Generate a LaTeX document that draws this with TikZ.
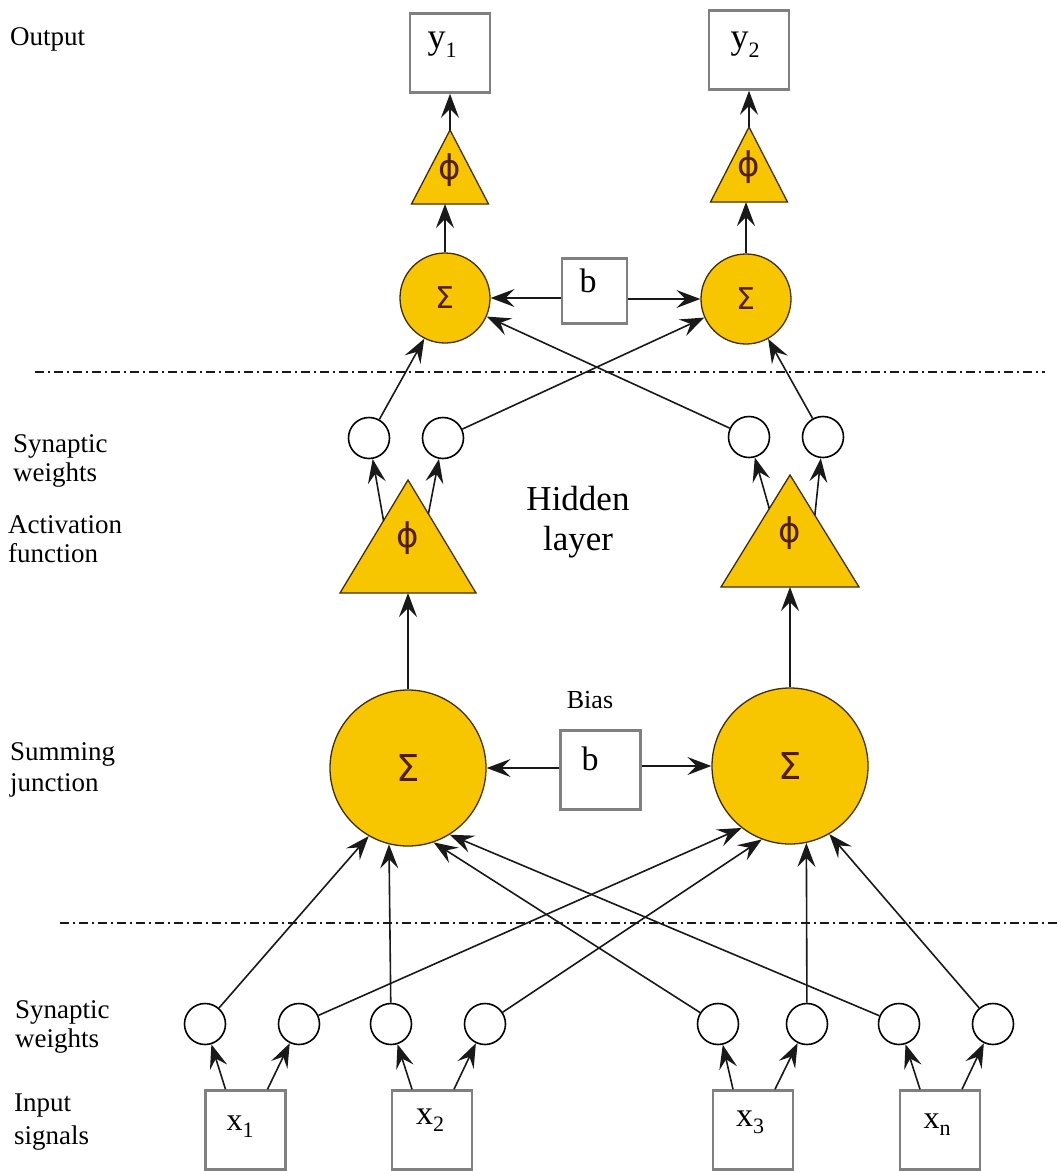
\documentclass[tikz,border=0pt]{standalone}
\usepackage{fontspec}
\setmainfont{Liberation Serif}
\newfontfamily\symfont{DejaVu Sans}
\usetikzlibrary{arrows.meta,calc}

\definecolor{gold}{RGB}{248,198,0}
\definecolor{goldedge}{RGB}{70,45,0}
\definecolor{glyph}{RGB}{80,30,0}
\definecolor{boxgray}{RGB}{128,128,128}

% variable with a lowered index
\newcommand{\idxlab}[3]{#1\raisebox{-#3}{\fontsize{22}{22}\selectfont #2}}

\tikzset{
  conn/.style={line width=1.6pt, draw=black!90,
    -{Stealth[length=24pt,width=18pt,inset=9pt]}},
  weight/.style={circle, draw=black, line width=1.6pt, fill=white,
    minimum size=41pt, inner sep=0pt},
  sumbig/.style={circle, draw=goldedge, line width=1.3pt, fill=gold,
    minimum size=156pt, inner sep=0pt, text=glyph,
    font=\symfont\fontsize{37}{37}\selectfont},
  sumsmall/.style={circle, draw=goldedge, line width=1.3pt, fill=gold,
    minimum size=90pt, inner sep=0pt, text=glyph,
    font=\symfont\fontsize{30}{30}\selectfont},
  sigbox/.style={rectangle, draw=boxgray, line width=2.5pt, fill=white,
    minimum width=80pt, minimum height=79pt, inner sep=0pt},
  trifill/.style={fill=gold, draw=goldedge, line width=1.3pt, line join=miter},
  phi/.style={text=glyph, font=\symfont\fontsize{34}{34}\selectfont, inner sep=0pt},
  sidetext/.style={anchor=base west, inner sep=0pt, font=\fontsize{27}{29}\selectfont},
  boxtext/.style={anchor=base, inner sep=0pt},
  sepline/.style={line width=1.4pt, draw=black!90,
    dash pattern=on 9pt off 4pt on 2pt off 4pt},
}

\begin{document}
\begin{tikzpicture}[x=1pt, y=-1pt]
\useasboundingbox (0,0) rectangle (1061,1171);

% ---------- separators ----------
\coordinate (sepAa) at (35,372);  \coordinate (sepAb) at (1045,372);
\coordinate (sepBa) at (60,923);  \coordinate (sepBb) at (1061,923);
\draw[sepline] (sepAa) -- (sepAb);
\draw[sepline] (sepBa) -- (sepBb);

% ---------- side captions ----------
\node[sidetext] (capOut) at (10,45) {Output};
\node[sidetext] (capSw1) at (13,452) {Synaptic};
\node[sidetext] (capSw2) at (13,481) {weights};
\node[sidetext] (capAf1) at (8,533) {Activation};
\node[sidetext] (capAf2) at (8,562) {function};
\node[sidetext] (capSj1) at (10,760) {Summing};
\node[sidetext] (capSj2) at (10,791) {junction};
\node[sidetext] (capSv1) at (15,1018) {Synaptic};
\node[sidetext] (capSv2) at (15,1047) {weights};
\node[sidetext] (capIn1) at (14,1111) {Input};
\node[sidetext] (capIn2) at (14,1144) {signals};

\node[boxtext, font=\fontsize{35}{35}\selectfont] (hid1) at (578,510) {Hidden};
\node[boxtext, font=\fontsize{35}{35}\selectfont] (hid2) at (578,550) {layer};
\node[boxtext, font=\fontsize{26}{26}\selectfont] (biasCap) at (590,708) {Bias};

% ---------- input signals ----------
\node[sigbox] (X1) at (245.5,1130) {};
\node[sigbox] (X2) at (432,1130) {};
\node[sigbox] (X3) at (753,1130) {};
\node[sigbox] (Xn) at (940,1130) {};
\node[boxtext, font=\fontsize{32}{32}\selectfont] (X1t) at (240,1130) {\idxlab{x}{1}{7pt}};
\node[boxtext, font=\fontsize{34}{34}\selectfont] (X2t) at (430,1124) {\idxlab{x}{2}{7pt}};
\node[boxtext, font=\fontsize{34}{34}\selectfont] (X3t) at (750,1126) {\idxlab{x}{3}{7pt}};
\node[boxtext, font=\fontsize{32}{32}\selectfont] (Xnt) at (937,1128) {\idxlab{x}{n}{7pt}};

% ---------- input synaptic weights ----------
\node[weight] (w1) at (205,1024) {};
\node[weight] (w2) at (299,1024) {};
\node[weight] (w3) at (391,1024) {};
\node[weight] (w4) at (485,1024) {};
\node[weight] (w5) at (718,1024) {};
\node[weight] (w6) at (807,1024) {};
\node[weight] (w7) at (899,1024) {};
\node[weight] (w8) at (993,1024) {};

% ---------- hidden summing junctions and bias ----------
\node[sumbig] (S1) at (408,768) {Σ};
\node[sumbig] (S2) at (790,766) {Σ};
\node[sigbox] (Bb) at (600.5,770) {};
\node[boxtext, font=\fontsize{34}{34}\selectfont] (Bbt) at (590,770) {b};

% ---------- hidden activation functions ----------
\coordinate (T1top) at (408,480); \coordinate (T1bl) at (340,593); \coordinate (T1br) at (476,593);
\coordinate (T2top) at (790,475); \coordinate (T2bl) at (721,587); \coordinate (T2br) at (859,587);
\filldraw[trifill] (T1bl) -- (T1br) -- (T1top) -- cycle;
\filldraw[trifill] (T2bl) -- (T2br) -- (T2top) -- cycle;
\node[phi] (T1) at (408,538) {ϕ};
\node[phi] (T2) at (790,533) {ϕ};
\coordinate (T1l) at ($(T1top)!0.36!(T1bl)$);
\coordinate (T1r) at ($(T1top)!0.30!(T1br)$);
\coordinate (T2l) at ($(T2top)!0.30!(T2bl)$);
\coordinate (T2r) at ($(T2top)!0.36!(T2br)$);

% ---------- hidden synaptic weights ----------
\node[weight] (h1) at (369,438) {};
\node[weight] (h2) at (443,438) {};
\node[weight] (h3) at (749,437) {};
\node[weight] (h4) at (823,437) {};

% ---------- output neurons ----------
\node[sumsmall] (S3) at (445,298) {Σ};
\node[sumsmall] (S4) at (746,299) {Σ};
\node[sigbox, minimum width=65pt, minimum height=65pt] (Bt) at (594.5,291) {};
\node[boxtext, font=\fontsize{34}{34}\selectfont] (Btt) at (588,292) {b};

\coordinate (T3top) at (450,130); \coordinate (T3bl) at (411.5,204); \coordinate (T3br) at (488.5,204);
\coordinate (T4top) at (749,127); \coordinate (T4bl) at (710.5,202); \coordinate (T4br) at (787.5,202);
\filldraw[trifill] (T3bl) -- (T3br) -- (T3top) -- cycle;
\filldraw[trifill] (T4bl) -- (T4br) -- (T4top) -- cycle;
\node[phi] (T3) at (450,170) {ϕ};
\node[phi] (T4) at (749,167) {ϕ};

\node[sigbox] (Y1) at (450,53) {};
\node[sigbox] (Y2) at (749,50) {};
\node[boxtext, font=\fontsize{36}{36}\selectfont] (Y1t) at (442,48) {\idxlab{y}{1}{9pt}};
\node[boxtext, font=\fontsize{36}{36}\selectfont] (Y2t) at (745,48) {\idxlab{y}{2}{9pt}};

% ---------- connectors: inputs to weights ----------
\draw[conn] ([xshift=-20pt]X1.north) -- (w1);
\draw[conn] ([xshift=22pt]X1.north) -- (w2);
\draw[conn] ([xshift=-20pt]X2.north) -- (w3);
\draw[conn] ([xshift=22pt]X2.north) -- (w4);
\draw[conn] ([xshift=-20pt]X3.north) -- (w5);
\draw[conn] ([xshift=22pt]X3.north) -- (w6);
\draw[conn] ([xshift=-20pt]Xn.north) -- (w7);
\draw[conn] ([xshift=22pt]Xn.north) -- (w8);

% ---------- weights to hidden summing junctions ----------
\draw[conn] (w1) -- (S1.240);
\draw[conn] (w3) -- (S1.256);
\draw[conn] (w5) -- (S1.289);
\draw[conn] (w7) -- (S1.302);
\draw[conn] (w2) -- (S2.232);
\draw[conn] (w4) -- (S2.249);
\draw[conn] (w6) -- (S2.282);
\draw[conn] (w8) -- (S2.300);

% ---------- bias ----------
\draw[conn] (Bb.west |- S1) -- (S1);
\draw[conn] (Bb.east |- S2) -- (S2);

% ---------- summing to activation ----------
\draw[conn] (S1.north) -- (S1.north |- T1bl);
\draw[conn] (S2.north) -- (S2.north |- T2bl);

% ---------- activation to hidden weights ----------
\draw[conn] (T1l) -- (h1);
\draw[conn] (T1r) -- (h2);
\draw[conn] (T2l) -- (h3);
\draw[conn] (T2r) -- (h4);

% ---------- hidden weights to output summing ----------
\draw[conn] (h1) -- (S3.243);
\draw[conn] (h2) -- (S4.204);
\draw[conn] (h3) -- (S3.336);
\draw[conn] (h4) -- (S4.299);

% ---------- output bias ----------
\draw[conn] (Bt.west |- S3) -- (S3);
\draw[conn] (Bt.east |- S4) -- (S4);

% ---------- output stage ----------
\draw[conn] (S3.north) -- (S3.north |- T3bl);
\draw[conn] (S4.north) -- (S4.north |- T4bl);
\draw[conn] (T3top) -- (T3top |- Y1.south);
\draw[conn] (T4top) -- (T4top |- Y2.south);
\end{tikzpicture}
\end{document}
